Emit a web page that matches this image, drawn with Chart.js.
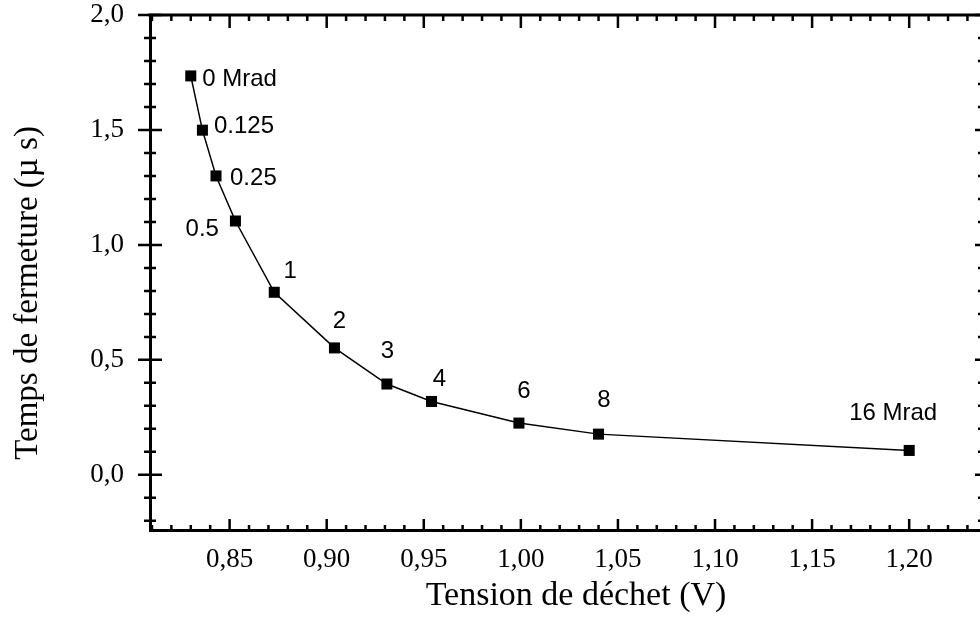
<!DOCTYPE html>
<html>
<head>
<meta charset="utf-8">
<script src="https://cdn.jsdelivr.net/npm/chart.js@4"></script>
<style>
  html, body { margin: 0; padding: 0; background: #fff; overflow: hidden; }
  canvas { display: block; }
</style>
</head>
<body>
<canvas id="fermetureChart" width="990" height="626"></canvas>
<script>
// dose labels, tension de déchet (V), temps de fermeture (µs)
const doses = ['0 Mrad', '0.125', '0.25', '0.5', '1', '2', '3', '4', '6', '8', '16 Mrad']
const tension = [0.830, 0.836, 0.843, 0.853, 0.873, 0.904, 0.931, 0.954, 0.999, 1.040, 1.200]
const temps = [1.735, 1.499, 1.300, 1.104, 0.794, 0.552, 0.395, 0.319, 0.225, 0.177, 0.106]

const xTicks = [0.85, 0.90, 0.95, 1.00, 1.05, 1.10, 1.15, 1.20]
const xTickLabels = ['0,85', '0,90', '0,95', '1,00', '1,05', '1,10', '1,15', '1,20']
const yTicks = [0, 0.5, 1.0, 1.5, 2.0]
const yTickLabels = ['0,0', '0,5', '1,0', '1,5', '2,0']

const serif = '"Liberation Serif", "Times New Roman", serif'
const sans = '"Liberation Sans", Arial, sans-serif'

// where each dose label sits around its point
const labelPlace = [
  { dx: 11.5, dy: 3.5, align: 'left' },
  { dx: 11.5, dy: -4, align: 'left' },
  { dx: 14, dy: 2.5, align: 'left' },
  { dx: -16.5, dy: 8, align: 'right' },
  { dx: 16, dy: -21, align: 'center' },
  { dx: 5, dy: -27, align: 'center' },
  { dx: 0.5, dy: -32.5, align: 'center' },
  { dx: 8, dy: -22, align: 'center' },
  { dx: 5, dy: -31.5, align: 'center' },
  { dx: 5.5, dy: -33.5, align: 'center' },
  { dx: -16, dy: -37.5, align: 'center' }
]

const frame = {
  id: 'frame',
  afterDraw(chart) {
    const ctx = chart.ctx
    const a = chart.chartArea
    const xs = chart.scales.x
    const ys = chart.scales.y
    ctx.save()
    ctx.strokeStyle = '#000'
    ctx.lineWidth = 3
    ctx.beginPath()
    ctx.moveTo(a.left - 1.5, a.top)
    ctx.lineTo(a.right, a.top)
    ctx.stroke()

    ctx.lineWidth = 2.5
    // x ticks, bottom (inward) and top (inward)
    for (let i = 81; i <= 123; i++) {
      const px = xs.getPixelForValue(i / 100)
      const major = i % 5 === 0
      ctx.beginPath()
      ctx.moveTo(px, a.bottom)
      ctx.lineTo(px, a.bottom - (major ? 11 : 5))
      ctx.moveTo(px, a.top)
      ctx.lineTo(px, a.top + (major ? 13 : 6))
      ctx.stroke()
    }
    // y ticks, left (crossing) and right (inward)
    for (let i = -2; i <= 20; i++) {
      const py = ys.getPixelForValue(i / 10)
      const major = i % 5 === 0
      const l = major ? 12 : 6
      ctx.beginPath()
      ctx.moveTo(a.left - l, py)
      ctx.lineTo(a.left + l, py)
      ctx.moveTo(a.right, py)
      ctx.lineTo(a.right - (major ? 7 : 4), py)
      ctx.stroke()
    }

    // dose labels
    ctx.fillStyle = '#000'
    ctx.font = '24px ' + sans
    ctx.textBaseline = 'middle'
    const pts = chart.getDatasetMeta(0).data
    pts.forEach((p, i) => {
      const s = labelPlace[i]
      ctx.textAlign = s.align
      ctx.fillText(doses[i], p.x + s.dx, p.y + s.dy)
    })

    // axis titles
    ctx.font = '34px ' + serif
    ctx.textAlign = 'center'
    ctx.textBaseline = 'alphabetic'
    ctx.fillText('Tension de déchet (V)', 576, 605)
    ctx.font = '33px ' + serif
    ctx.translate(28, 293)
    ctx.rotate(-Math.PI / 2)
    ctx.textBaseline = 'middle'
    ctx.fillText('Temps de fermeture (µ s)', 0, 0)
    ctx.restore()
  }
}

new Chart(document.getElementById('fermetureChart'), {
  type: 'scatter',
  data: {
    datasets: [{
      data: tension.map((t, i) => ({ x: t, y: temps[i] })),
      showLine: true,
      borderColor: '#000',
      borderWidth: 1.5,
      tension: 0,
      pointStyle: 'rect',
      pointRadius: 7.8,
      pointBackgroundColor: '#000',
      pointBorderColor: '#000',
      pointBorderWidth: 0
    }]
  },
  options: {
    responsive: false,
    animation: false,
    devicePixelRatio: 1,
    layout: { padding: { top: 15, right: 8, left: 0, bottom: 0 } },
    plugins: {
      legend: { display: false },
      tooltip: { enabled: false }
    },
    scales: {
      x: {
        type: 'linear',
        min: 0.809,
        max: 1.2375,
        grid: { display: false },
        border: { display: true, color: '#000', width: 3 },
        afterBuildTicks: (scale) => { scale.ticks = xTicks.map(v => ({ value: v })) },
        afterFit: (scale) => {
          scale.height = 96
          scale.paddingLeft = 0
          scale.paddingRight = 0
        },
        ticks: {
          color: '#000',
          padding: 6,
          maxRotation: 0,
          autoSkip: false,
          font: { family: serif, size: 27 },
          callback: (v, i) => xTickLabels[i]
        }
      },
      y: {
        min: -0.24,
        max: 2.0,
        grid: { display: false },
        border: { display: true, color: '#000', width: 3 },
        afterBuildTicks: (scale) => { scale.ticks = yTicks.map(v => ({ value: v })) },
        afterFit: (scale) => {
          scale.width = 150
          scale.paddingTop = 0
          scale.paddingBottom = 0
        },
        ticks: {
          color: '#000',
          padding: 18,
          font: { family: serif, size: 27 },
          callback: (v, i) => yTickLabels[i]
        }
      }
    }
  },
  plugins: [frame]
})
</script>
</body>
</html>
